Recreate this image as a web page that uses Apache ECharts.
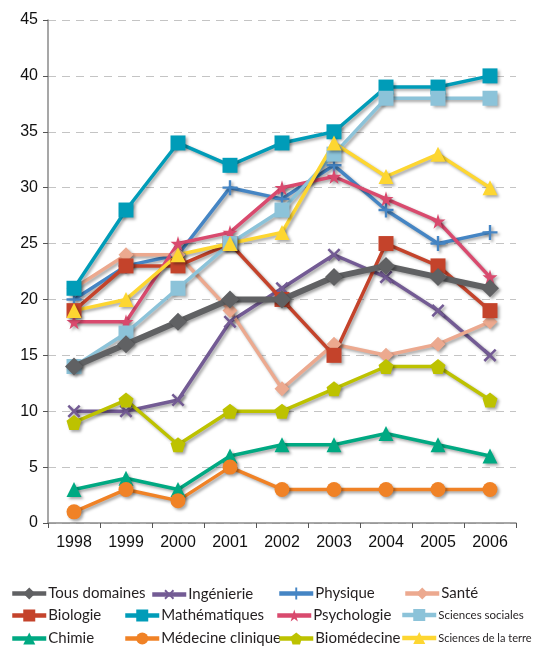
<!DOCTYPE html>
<html>
<head>
<meta charset="utf-8">
<script src="https://cdn.jsdelivr.net/npm/echarts@6/dist/echarts.min.js"></script>
<style>
  html, body { margin: 0; padding: 0; background: #fff; }
  #chart { width: 534px; height: 653px; }
</style>
</head>
<body>
<div id="chart"></div>
<script>
// années
const years = ['1998', '1999', '2000', '2001', '2002', '2003', '2004', '2005', '2006'];

// valeurs par domaine
const tousDomaines = [14, 16, 18, 20, 20, 22, 23, 22, 21];
const ingenierie = [10, 10, 11, 18, 21, 24, 22, 19, 15];
const physique = [20, 23, 24, 30, 29, 32, 28, 25, 26];
const sante = [21, 24, 24, 19, 12, 16, 15, 16, 18];
const biologie = [19, 23, 23, 25, 20, 15, 25, 23, 19];
const mathematiques = [21, 28, 34, 32, 34, 35, 39, 39, 40];
const psychologie = [18, 18, 25, 26, 30, 31, 29, 27, 22];
const sciencesSociales = [14, 17, 21, 25, 28, 33, 38, 38, 38];
const chimie = [3, 4, 3, 6, 7, 7, 8, 7, 6];
const medecineClinique = [1, 3, 2, 5, 3, 3, 3, 3, 3];
const biomedecine = [9, 11, 7, 10, 10, 12, 14, 14, 11];
const sciencesTerre = [19, 20, 24, 25, 26, 34, 31, 33, 30];

const STAR = 'path://M50,0L61,35L98,35L68,57L79,91L50,70L21,91L32,57L2,35L39,35Z';
const PENTA = 'path://M50,0L98,36L80,92L20,92L2,36Z';
const PLUS = 'path://M42,0H58V42H100V58H58V100H42V58H0V42H42Z';

const shadow = {
  shadowColor: 'rgba(0,0,0,0.35)',
  shadowBlur: 3,
  shadowOffsetX: 2,
  shadowOffsetY: 2
};

// nom, données, couleur, symbole, taille, rotation
const domains = [
  ['Tous domaines', tousDomaines, '#606163', 'diamond', 18, 0],
  ['Ingénierie', ingenierie, '#735b94', PLUS, 16, 45],
  ['Physique', physique, '#4585c4', PLUS, 15, 0],
  ['Santé', sante, '#eca98f', 'diamond', 15, 0],
  ['Biologie', biologie, '#c4432b', 'rect', 15, 0],
  ['Mathématiques', mathematiques, '#009cb8', 'rect', 15, 0],
  ['Psychologie', psychologie, '#d94a6e', STAR, 15, 0],
  ['Sciences sociales', sciencesSociales, '#8cc3d9', 'rect', 15, 0],
  ['Chimie', chimie, '#00a982', 'triangle', 15, 0],
  ['Médecine clinique', medecineClinique, '#f08226', 'circle', 15, 0],
  ['Biomédecine', biomedecine, '#bdc200', PENTA, 15, 0],
  ['Sciences de la terre', sciencesTerre, '#fdd631', 'triangle', 15, 0]
];

// position des légendes (gauche, haut, taille du texte)
const legendPos = [
  [5, 581, 15], [145, 581, 15], [272, 581, 15], [398, 581, 15],
  [5, 603, 15], [118, 603, 15], [270, 603, 15], [395, 604, 11.5],
  [5, 626, 15], [118, 626, 15], [272, 626, 15], [395, 627, 11]
];

const series = domains.map((d, i) => ({
  name: d[0],
  type: 'line',
  data: d[1],
  symbol: d[3],
  symbolSize: d[4],
  symbolRotate: d[5],
  z: i === 0 ? 3 : 2,
  lineStyle: Object.assign({ color: d[2], width: i === 0 ? 6 : 3.5 }, shadow),
  itemStyle: Object.assign({ color: d[2] }, shadow),
  emphasis: { disabled: true }
}));

const legends = domains.map((d, i) => ({
  data: [d[0]],
  left: legendPos[i][0],
  top: legendPos[i][1],
  itemWidth: 34,
  itemHeight: 15,
  itemGap: 0,
  padding: 5,
  selectedMode: false,
  lineStyle: { width: 4.5 },
  itemStyle: { shadowBlur: 0, shadowOffsetX: 0, shadowOffsetY: 0 },
  textStyle: {
    color: '#231f20',
    fontFamily: 'Lato',
    fontSize: legendPos[i][2],
    padding: [0, 0, 0, -3]
  }
}));

const chart = echarts.init(document.getElementById('chart'));
chart.setOption({
  animation: false,
  legend: legends,
  grid: { left: 48, right: 18, top: 20, bottom: 130 },
  xAxis: {
    type: 'category',
    data: years,
    boundaryGap: true,
    axisLine: { lineStyle: { color: '#8a8a8a', width: 1.5 } },
    axisTick: { show: true, length: 5, lineStyle: { color: '#555' } },
    axisLabel: { color: '#111', fontSize: 16, fontFamily: 'Liberation Sans', margin: 12 }
  },
  yAxis: {
    type: 'value',
    min: 0,
    max: 45,
    interval: 5,
    axisLine: { show: true, lineStyle: { color: '#8a8a8a', width: 1.5 } },
    axisTick: { show: true, inside: false, length: 5, lineStyle: { color: '#555' } },
    axisLabel: { color: '#111', fontSize: 16, fontFamily: 'Liberation Sans', margin: 10 },
    splitLine: { show: true, lineStyle: { color: '#c4c4c4', type: [8, 6], width: 1 } }
  },
  series: series
});
</script>
</body>
</html>
